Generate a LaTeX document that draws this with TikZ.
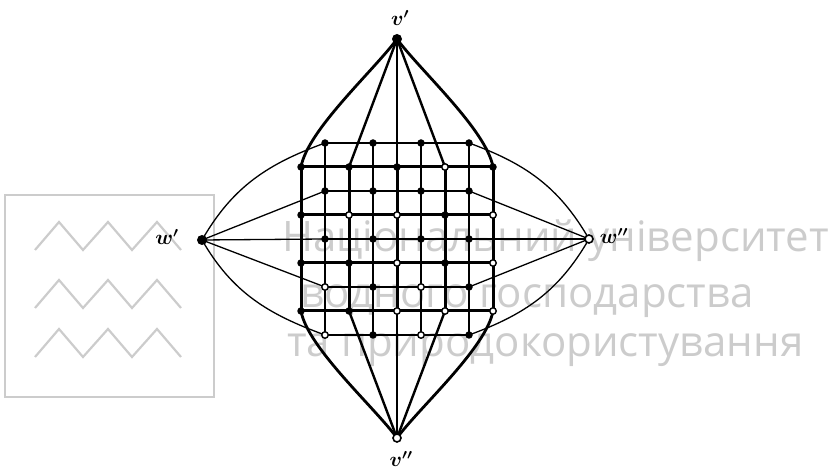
\documentclass[tikz,border=0pt]{standalone}
\usepackage{fontspec}
\newfontfamily\wmfont{Open Sans}
\pgfdeclarelayer{wmlayer}
\pgfdeclarelayer{edgelayer}
\pgfsetlayers{wmlayer,edgelayer,main}
\begin{document}
\begin{tikzpicture}[x=1pt,y=1pt,
  dotf/.style={circle,fill=black,inner sep=0pt,minimum size=7.5pt},
  doto/.style={circle,draw=black,fill=white,line width=1.4pt,inner sep=0pt,minimum size=6.5pt},
  bigf/.style={circle,fill=black,inner sep=0pt,minimum size=10pt},
  bigo/.style={circle,draw=black,fill=white,line width=1.6pt,inner sep=0pt,minimum size=8pt},
  gridA/.style={line width=2.4pt},
  gridB/.style={line width=3pt},
  wedge/.style={line width=1.3pt},
  vcurve/.style={line width=2.8pt},
  vline/.style={line width=2.4pt},
  lab/.style={font=\fontsize{21}{21}\selectfont\boldmath, inner sep=0pt},
  wm/.style={draw=black!20, line width=2.2pt},
  wmtext/.style={text=black!20, font=\wmfont\fontsize{42}{42}\selectfont, anchor=base west, inner sep=0pt}
]
\useasboundingbox (0,0) rectangle (833,470);

% ---- watermark ----
\begin{pgfonlayer}{wmlayer}
  \draw[wm] (5,275) rectangle (214,73);
  \foreach \yy in {220,162,113}{
    \draw[wm, line join=miter] (35,\yy) -- (59,\yy+28) -- (83,\yy) -- (108,\yy+28) -- (132,\yy) -- (157,\yy+28) -- (181,\yy);
  }
  \node[wmtext] (wm1) at (282,218) {Національний університет};
  \node[wmtext] (wm2) at (300,162) {водного господарства};
  \node[wmtext] (wm3) at (287,113) {та природокористування};
\end{pgfonlayer}

% ---- vertices ----
\node[bigf] (v1) at (397,431) {};
\node[bigo] (v2) at (397,32) {};
\node[bigf] (w1) at (202,230) {};
\node[bigo] (w2) at (589,231) {};
\node[lab] (lv1) at (400,452) {$v'$};
\node[lab] (lv2) at (401,11) {$v''$};
\node[lab] (lw1) at (167,233) {$w'$};
\node[lab] (lw2) at (614,234) {$w''$};

\foreach \i/\j/\s in {
  1/0/dotf, 3/0/dotf, 5/0/dotf, 7/0/dotf,
  1/2/dotf, 3/2/dotf, 5/2/dotf, 7/2/dotf,
  1/4/dotf, 3/4/dotf, 5/4/dotf, 7/4/dotf,
  1/6/doto, 3/6/dotf, 5/6/doto, 7/6/dotf,
  1/8/doto, 3/8/dotf, 5/8/doto, 7/8/dotf,
  0/1/dotf, 2/1/dotf, 4/1/dotf, 6/1/doto, 8/1/dotf,
  0/3/dotf, 2/3/doto, 4/3/doto, 6/3/dotf, 8/3/doto,
  0/5/dotf, 2/5/dotf, 4/5/doto, 6/5/dotf, 8/5/doto,
  0/7/dotf, 2/7/dotf, 4/7/doto, 6/7/doto, 8/7/doto}{
  \node[\s] (g-\i-\j) at ({301+24*\i},{327-24*\j}) {};
}

% ---- edges ----
\begin{pgfonlayer}{edgelayer}
  % grid A
  \foreach \j in {0,2,4,6,8}{ \draw[gridA] (g-1-\j.center) -- (g-7-\j.center); }
  \foreach \i in {1,3,5,7}{ \draw[gridA] (g-\i-0.center) -- (g-\i-8.center); }
  % grid B
  \foreach \j in {1,3,5,7}{ \draw[gridB] (g-0-\j.center) -- (g-8-\j.center); }
  \foreach \i in {0,2,4,6,8}{ \draw[gridB] (g-\i-1.center) -- (g-\i-7.center); }
  % v' and v''
  \draw[vcurve] (v1.center) to[out=-126,in=80,looseness=0.6] (g-0-1.center);
  \draw[vcurve] (v1.center) to[out=-54,in=100,looseness=0.6] (g-8-1.center);
  \draw[vcurve] (v2.center) to[out=126,in=-80,looseness=0.6] (g-0-7.center);
  \draw[vcurve] (v2.center) to[out=54,in=-100,looseness=0.6] (g-8-7.center);
  \foreach \i in {2,4,6}{
    \draw[vline] (v1.center) -- (g-\i-1.center);
    \draw[vline] (v2.center) -- (g-\i-7.center);
  }
  % w' and w''
  \draw[wedge] (w1.center) to[out=60,in=-160] (g-1-0.center);
  \draw[wedge] (w1.center) to[out=-60,in=160] (g-1-8.center);
  \draw[wedge] (w2.center) to[out=120,in=-20] (g-7-0.center);
  \draw[wedge] (w2.center) to[out=-120,in=20] (g-7-8.center);
  \foreach \j in {2,4,6}{
    \draw[wedge] (w1.center) -- (g-1-\j.center);
    \draw[wedge] (w2.center) -- (g-7-\j.center);
  }
\end{pgfonlayer}
\end{tikzpicture}
\end{document}
